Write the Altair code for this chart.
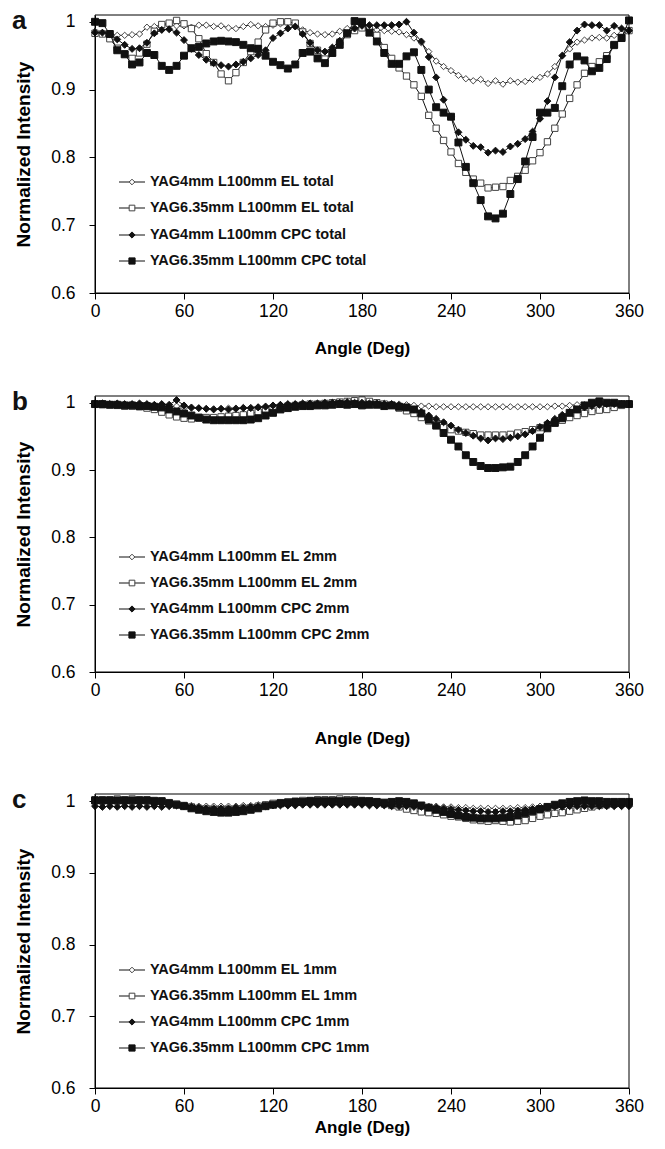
import altair as alt
import pandas as pd

angles = list(range(0, 361, 5))
x_ticks = [0, 60, 120, 180, 240, 300, 360]
y_ticks = [0.6, 0.7, 0.8, 0.9, 1.0]

# ---------------- panel a (total) ----------------
a_el4 = [0.986, 0.984, 0.982, 0.98, 0.98, 0.981, 0.982, 0.992, 0.993, 0.995,
         0.996, 0.994, 0.994, 0.992, 0.995, 0.995, 0.993, 0.994, 0.991, 0.99,
         0.993, 0.996, 0.994, 0.993, 0.995, 0.997, 0.998, 0.993, 0.988, 0.984,
         0.982, 0.981, 0.982, 0.986, 0.99, 0.991, 0.991, 0.99, 0.988, 0.987,
         0.986, 0.985, 0.981, 0.976, 0.969, 0.956, 0.942, 0.934, 0.928, 0.921,
         0.916, 0.913, 0.915, 0.909, 0.913, 0.908, 0.913, 0.911, 0.912, 0.915,
         0.918, 0.923, 0.934, 0.95, 0.96, 0.97, 0.973, 0.976, 0.977, 0.976,
         0.98, 0.983, 0.986]
a_el635 = [0.983, 0.982, 0.975, 0.961, 0.953, 0.946, 0.954, 0.967, 0.986, 0.996,
           0.998, 1.002, 0.997, 0.99, 0.975, 0.953, 0.94, 0.923, 0.913, 0.925,
           0.94, 0.956, 0.97, 0.988, 0.998, 1.0, 1.0, 0.998, 0.985, 0.968,
           0.958, 0.945, 0.954, 0.97, 0.981, 0.987, 0.991, 0.99, 0.98, 0.962,
           0.946, 0.932, 0.92, 0.907, 0.89, 0.862, 0.843, 0.825, 0.808, 0.791,
           0.778, 0.768, 0.762, 0.755, 0.756, 0.757, 0.766, 0.772, 0.781, 0.795,
           0.807, 0.823, 0.843, 0.864, 0.887, 0.907, 0.924, 0.934, 0.941, 0.95,
           0.965, 0.977, 0.987]
a_cpc4 = [0.984, 0.984, 0.982, 0.974, 0.966, 0.96, 0.961, 0.969, 0.983, 0.988,
          0.989, 0.984, 0.973, 0.96, 0.951, 0.944, 0.939, 0.936, 0.934, 0.937,
          0.941, 0.946, 0.951, 0.958, 0.976, 0.983, 0.99, 0.993, 0.982, 0.969,
          0.958, 0.956, 0.962, 0.972, 0.983, 0.99, 0.994, 0.995, 0.995, 0.995,
          0.995, 0.996, 1.0, 0.984, 0.971, 0.948, 0.918, 0.885, 0.86, 0.837,
          0.826, 0.817, 0.815, 0.807, 0.81, 0.808, 0.816, 0.82, 0.827, 0.838,
          0.857, 0.883, 0.918, 0.95, 0.97, 0.987, 0.996, 0.995, 0.995, 0.987,
          0.994, 0.99, 0.987]
a_cpc635 = [1.0, 0.998, 0.982, 0.958, 0.952, 0.937, 0.94, 0.954, 0.951, 0.935,
            0.929, 0.935, 0.95, 0.961, 0.963, 0.968, 0.971, 0.972, 0.971, 0.97,
            0.966, 0.961, 0.96, 0.95, 0.941, 0.936, 0.931, 0.937, 0.954, 0.956,
            0.946, 0.939, 0.954, 0.966, 0.983, 1.001, 1.0, 0.984, 0.971, 0.954,
            0.938, 0.938, 0.949, 0.955, 0.929, 0.9, 0.874, 0.866, 0.86, 0.822,
            0.786, 0.762, 0.737, 0.713, 0.71, 0.717, 0.746, 0.768, 0.794, 0.83,
            0.866, 0.866, 0.873, 0.905, 0.937, 0.949, 0.943, 0.927, 0.932, 0.945,
            0.966, 0.976, 1.002]

# ---------------- panel b (2mm) ----------------
b_el4 = [0.998, 0.998, 0.998, 0.997, 0.997, 0.997, 0.996, 0.996, 0.995, 0.995,
         0.994, 0.995, 0.993, 0.992, 0.992, 0.991, 0.991, 0.991, 0.992, 0.992,
         0.993, 0.993, 0.994, 0.995, 0.996, 0.997, 0.997, 0.998, 0.998, 0.998,
         0.999, 0.999, 0.999, 1.0, 1.0, 1.001, 1.002, 1.0, 0.999, 0.999,
         0.998, 0.998, 0.997, 0.996, 0.995, 0.995, 0.994, 0.994, 0.994, 0.994,
         0.994, 0.994, 0.994, 0.994, 0.994, 0.994, 0.994, 0.994, 0.994, 0.994,
         0.994, 0.994, 0.995, 0.995, 0.996, 0.997, 0.997, 0.998, 0.999, 0.998,
         0.999, 0.998, 0.998]
b_el635 = [0.998, 0.997, 0.997, 0.996, 0.995, 0.995, 0.994, 0.992, 0.99, 0.986,
           0.982, 0.979, 0.977, 0.976, 0.977, 0.978, 0.978, 0.979, 0.98, 0.981,
           0.982, 0.984, 0.986, 0.988, 0.991, 0.993, 0.995, 0.996, 0.997, 0.998,
           0.998, 0.999, 1.0, 1.001, 1.002, 1.003, 1.004, 1.002, 1.0, 0.998,
           0.996, 0.992, 0.988, 0.984, 0.978, 0.973, 0.968, 0.963, 0.96, 0.958,
           0.956, 0.954, 0.952, 0.952, 0.952, 0.952, 0.953, 0.955, 0.957, 0.96,
           0.963, 0.967, 0.971, 0.974, 0.978, 0.981, 0.984, 0.987, 0.989, 0.99,
           0.993, 0.996, 0.998]
b_cpc4 = [0.999, 0.999, 0.998, 0.999, 0.998, 0.998, 0.999, 0.998, 0.997, 0.998,
          0.997, 1.004, 0.996, 0.993, 0.992, 0.991, 0.99, 0.991, 0.99, 0.991,
          0.992, 0.992, 0.993, 0.994, 0.996, 0.997, 0.998, 0.998, 0.999, 0.999,
          0.999, 1.0, 1.0, 1.0, 1.001, 1.0, 1.0, 0.999, 0.999, 0.998,
          0.998, 0.996, 0.993, 0.99, 0.986, 0.981, 0.976, 0.971, 0.966, 0.96,
          0.955, 0.951, 0.947, 0.944, 0.947, 0.946, 0.948, 0.95, 0.953, 0.958,
          0.964, 0.97, 0.976, 0.982, 0.986, 0.99, 0.993, 0.995, 0.997, 0.998,
          0.998, 0.998, 0.998]
b_cpc635 = [0.998, 0.998, 0.997, 0.997, 0.996, 0.996, 0.995, 0.995, 0.994, 0.993,
            0.99, 0.987, 0.984, 0.981, 0.978, 0.975, 0.974, 0.974, 0.974, 0.974,
            0.974, 0.975, 0.977, 0.981, 0.985, 0.99, 0.992, 0.994, 0.995, 0.995,
            0.996, 0.996, 0.997, 0.998, 0.997, 0.998, 0.996, 0.997, 0.997, 0.995,
            0.996, 0.994, 0.993, 0.99, 0.984, 0.975, 0.966, 0.955, 0.945, 0.935,
            0.922, 0.912, 0.906, 0.903, 0.903, 0.904, 0.905, 0.912, 0.922, 0.935,
            0.948, 0.962, 0.97, 0.977, 0.985, 0.99, 0.996, 1.0, 1.002, 1.0,
            1.0, 0.998, 0.998]

# ---------------- panel c (1mm) ----------------
c_el4 = [0.997, 0.997, 0.997, 0.997, 0.997, 0.997, 0.997, 0.997, 0.996, 0.996,
         0.995, 0.995, 0.994, 0.994, 0.993, 0.993, 0.993, 0.993, 0.993, 0.993,
         0.994, 0.994, 0.995, 0.995, 0.996, 0.996, 0.996, 0.997, 0.997, 0.997,
         0.997, 0.998, 0.998, 0.998, 0.998, 0.998, 0.998, 0.998, 0.997, 0.997,
         0.997, 0.996, 0.996, 0.995, 0.994, 0.993, 0.993, 0.992, 0.992, 0.991,
         0.991, 0.99, 0.99, 0.99, 0.99, 0.99, 0.99, 0.991, 0.991, 0.992,
         0.993, 0.993, 0.994, 0.995, 0.995, 0.996, 0.996, 0.997, 0.997, 0.997,
         0.997, 0.997, 0.997]
c_el635 = [1.002, 1.002, 1.002, 1.003, 1.002, 1.003, 1.002, 1.002, 1.001, 1.0,
           0.998, 0.996, 0.994, 0.992, 0.99, 0.989, 0.988, 0.988, 0.988, 0.989,
           0.99, 0.991, 0.993, 0.995, 0.997, 0.998, 0.999, 1.0, 1.001, 1.001,
           1.002, 1.002, 1.002, 1.003, 1.002, 1.002, 1.001, 1.0, 0.998, 0.996,
           0.994, 0.992, 0.989, 0.987, 0.985, 0.984, 0.983, 0.981, 0.979, 0.978,
           0.976, 0.974, 0.973, 0.972, 0.973, 0.972, 0.971, 0.972, 0.973, 0.976,
           0.979, 0.981, 0.983, 0.984, 0.986, 0.988, 0.99, 0.992, 0.994, 0.995,
           0.996, 0.997, 0.998]
c_cpc4 = [0.993, 0.992, 0.993, 0.992, 0.993, 0.992, 0.993, 0.992, 0.993, 0.992,
          0.993, 0.994, 0.993, 0.992, 0.991, 0.99, 0.99, 0.99, 0.99, 0.991,
          0.991, 0.992, 0.993, 0.993, 0.994, 0.994, 0.994, 0.994, 0.995, 0.995,
          0.995, 0.995, 0.995, 0.995, 0.995, 0.995, 0.995, 0.994, 0.994, 0.994,
          0.993, 0.993, 0.993, 0.992, 0.992, 0.991, 0.991, 0.99, 0.989, 0.988,
          0.987, 0.986, 0.986, 0.985, 0.985, 0.986, 0.986, 0.987, 0.988, 0.989,
          0.99, 0.991, 0.992, 0.992, 0.993, 0.993, 0.993, 0.993, 0.993, 0.993,
          0.993, 0.993, 0.993]
c_cpc635 = [1.001, 1.001, 1.001, 1.001, 1.001, 1.001, 1.001, 1.001, 1.0, 1.0,
            0.997, 0.995, 0.993, 0.99, 0.988, 0.986, 0.985, 0.984, 0.984, 0.985,
            0.986, 0.988, 0.99, 0.993, 0.995, 0.997, 0.998, 0.999, 0.999, 1.0,
            1.0, 1.0, 1.0, 1.0, 1.0, 1.0, 1.0, 1.0, 0.999, 0.998,
            0.999, 1.0, 0.999, 0.997, 0.994, 0.991, 0.988, 0.985, 0.982, 0.98,
            0.978, 0.977, 0.976, 0.976, 0.976, 0.977, 0.978, 0.98, 0.983, 0.986,
            0.989, 0.992, 0.995, 0.997, 0.999, 1.0, 1.001, 1.0, 1.0, 0.999,
            0.999, 0.999, 0.999]

labels_a = ["YAG4mm L100mm EL total", "YAG6.35mm L100mm EL total",
            "YAG4mm L100mm CPC total", "YAG6.35mm L100mm CPC total"]
labels_b = ["YAG4mm L100mm EL 2mm", "YAG6.35mm L100mm EL 2mm",
            "YAG4mm L100mm CPC 2mm", "YAG6.35mm L100mm CPC 2mm"]
labels_c = ["YAG4mm L100mm EL 1mm", "YAG6.35mm L100mm EL 1mm",
            "YAG4mm L100mm CPC 1mm", "YAG6.35mm L100mm CPC 1mm"]

series_keys = ["s0", "s1", "s2", "s3"]
STYLES = [
    dict(shape="diamond", fill="white", stroke="#444444", size=40),
    dict(shape="square", fill="white", stroke="#444444", size=40),
    dict(shape="diamond", fill="#111111", stroke="#111111", size=48),
    dict(shape="square", fill="#111111", stroke="#111111", size=48),
]
FONT = "Liberation Sans"
W = 534
ONE = pd.DataFrame({"k": [0]})


def panel(series, labels, letter, H, off, legend_y, x_title_pad):
    rows = []
    for key, vals in zip(series_keys, series):
        assert len(vals) == len(angles)
        for ang, v in zip(angles, vals):
            rows.append({"angle": ang, "val": v, "s": key})
    df = pd.DataFrame(rows)

    x_enc = alt.X("angle:Q",
                  scale=alt.Scale(domain=[0, 360], nice=False, zero=False),
                  axis=alt.Axis(values=x_ticks, title="Angle (Deg)", grid=False,
                                tickSize=6, labelPadding=3, labelFontSize=17.5,
                                titlePadding=x_title_pad, labelFlush=False))
    y_enc = alt.Y("val:Q",
                  scale=alt.Scale(domain=[0.6, 1.01], range=[H, off], nice=False, zero=False),
                  axis=alt.Axis(values=y_ticks, title="Normalized Intensity", grid=False,
                                tickSize=6, labelPadding=14, labelFontSize=17.5,
                                titlePadding=17, titleFontSize=19,
                                labelExpr="datum.value == 1 ? '1' : format(datum.value, '.1f')"))

    layers = []
    for key, st in zip(series_keys, STYLES):
        base = alt.Chart(df).transform_filter(alt.datum.s == key)
        layers.append(base.mark_line(color="#111111", strokeWidth=1).encode(x=x_enc, y=y_enc))
        layers.append(base.mark_point(shape=st["shape"], filled=True, fill=st["fill"],
                                      stroke=st["stroke"], strokeWidth=1, size=st["size"],
                                      opacity=1).encode(x=x_enc, y=y_enc))
    # plot frame
    layers.append(alt.Chart(ONE).mark_rect(fillOpacity=0, stroke="black", strokeWidth=1).encode(
        x=alt.value(0), x2=alt.value(W), y=alt.value(off), y2=alt.value(H)))
    # legend
    for i, (lab, st) in enumerate(zip(labels, STYLES)):
        yy = legend_y[i]
        layers.append(alt.Chart(ONE).mark_rule(color="#111111", strokeWidth=1).encode(
            x=alt.value(24), x2=alt.value(50), y=alt.value(yy)))
        layers.append(alt.Chart(ONE).mark_point(shape=st["shape"], filled=True, fill=st["fill"],
                                                stroke=st["stroke"], strokeWidth=1,
                                                size=st["size"] * 0.8, opacity=1).encode(
            x=alt.value(37), y=alt.value(yy)))
        layers.append(alt.Chart(pd.DataFrame({"t": [lab]})).mark_text(
            align="left", baseline="middle", font=FONT, fontSize=14.5, fontWeight="bold",
            color="#111111").encode(x=alt.value(55), y=alt.value(yy), text="t:N"))
    # panel letter
    layers.append(alt.Chart(pd.DataFrame({"t": [letter]})).mark_text(
        align="left", baseline="top", font=FONT, fontSize=26, fontWeight="bold",
        color="#111111").encode(x=alt.value(-83), y=alt.value(off - 7), text="t:N"))

    return alt.layer(*layers).properties(width=W, height=H)


pa = panel([a_el4, a_el635, a_cpc4, a_cpc635], labels_a, "a", 278, 0,
           [167, 193, 220, 246], 21)
pb = panel([b_el4, b_el635, b_cpc4, b_cpc635], labels_b, "b", 276, 0,
           [161, 187, 213, 239], 32)
pc = panel([c_el4, c_el635, c_cpc4, c_cpc635], labels_c, "c", 313, 19,
           [195, 221, 247, 273], 5)

chart = alt.vconcat(pa, pb, pc, spacing=103, bounds="flush").properties(
    padding={"left": 12, "top": 8, "right": 5, "bottom": 5},
    background="white",
).configure_view(stroke=None).configure_axis(
    domainColor="black", tickColor="black", labelColor="black", titleColor="black",
    labelFont=FONT, titleFont=FONT, titleFontSize=17, titleFontWeight="bold",
    domainWidth=1, tickWidth=1,
)

chart.save("out.html", embed_options={"renderer": "svg", "actions": False})
